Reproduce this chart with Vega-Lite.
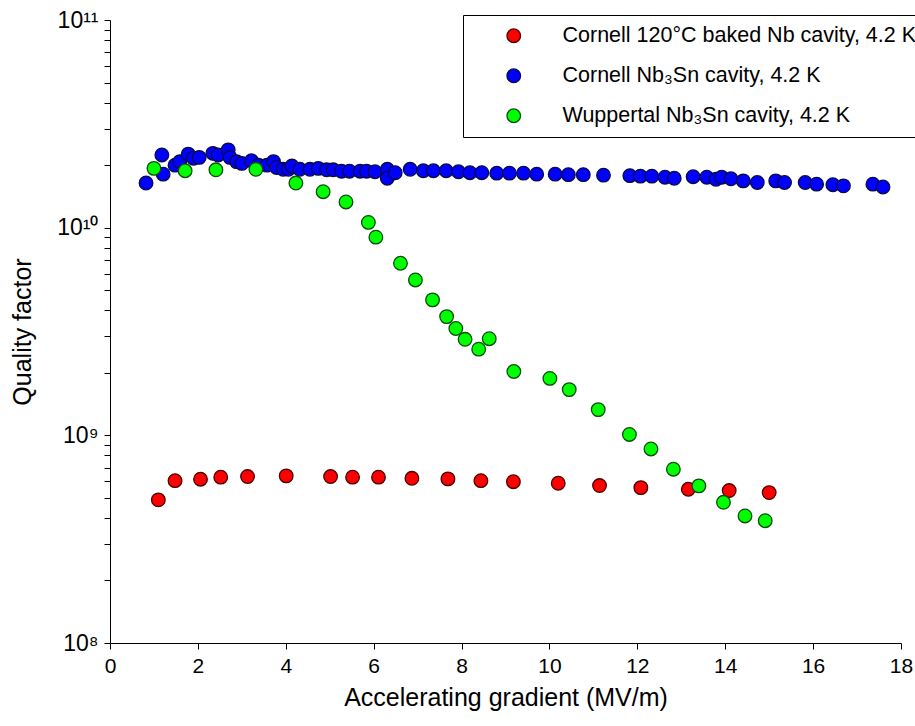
{
  "$schema": "https://vega.github.io/schema/vega-lite/v6.json",
  "width": 791,
  "height": 623,
  "autosize": "none",
  "padding": {"left": 110, "top": 20, "right": 14, "bottom": 83},
  "background": "white",
  "config": {
    "view": {"stroke": null},
    "font": "Liberation Sans",
    "axis": {"domainColor": "black", "tickColor": "black", "labelColor": "black", "titleColor": "black", "labelFont": "Liberation Sans", "titleFont": "Liberation Sans", "titleFontWeight": "normal", "grid": false}
  },
  "data": {"values": [
    {"s": "Cornell 120°C baked Nb cavity, 4.2 K", "e": 1.10, "q": 4.89e8},
    {"s": "Cornell 120°C baked Nb cavity, 4.2 K", "e": 1.48, "q": 6.05e8},
    {"s": "Cornell 120°C baked Nb cavity, 4.2 K", "e": 2.06, "q": 6.15e8},
    {"s": "Cornell 120°C baked Nb cavity, 4.2 K", "e": 2.52, "q": 6.29e8},
    {"s": "Cornell 120°C baked Nb cavity, 4.2 K", "e": 3.13, "q": 6.33e8},
    {"s": "Cornell 120°C baked Nb cavity, 4.2 K", "e": 4.01, "q": 6.38e8},
    {"s": "Cornell 120°C baked Nb cavity, 4.2 K", "e": 5.02, "q": 6.33e8},
    {"s": "Cornell 120°C baked Nb cavity, 4.2 K", "e": 5.52, "q": 6.29e8},
    {"s": "Cornell 120°C baked Nb cavity, 4.2 K", "e": 6.11, "q": 6.29e8},
    {"s": "Cornell 120°C baked Nb cavity, 4.2 K", "e": 6.87, "q": 6.21e8},
    {"s": "Cornell 120°C baked Nb cavity, 4.2 K", "e": 7.69, "q": 6.17e8},
    {"s": "Cornell 120°C baked Nb cavity, 4.2 K", "e": 8.44, "q": 6.05e8},
    {"s": "Cornell 120°C baked Nb cavity, 4.2 K", "e": 9.18, "q": 5.98e8},
    {"s": "Cornell 120°C baked Nb cavity, 4.2 K", "e": 10.20, "q": 5.88e8},
    {"s": "Cornell 120°C baked Nb cavity, 4.2 K", "e": 11.14, "q": 5.73e8},
    {"s": "Cornell 120°C baked Nb cavity, 4.2 K", "e": 12.08, "q": 5.60e8},
    {"s": "Cornell 120°C baked Nb cavity, 4.2 K", "e": 13.16, "q": 5.50e8},
    {"s": "Cornell 120°C baked Nb cavity, 4.2 K", "e": 14.09, "q": 5.42e8},
    {"s": "Cornell 120°C baked Nb cavity, 4.2 K", "e": 15.00, "q": 5.30e8},
    {"s": "Cornell Nb₃Sn cavity, 4.2 K", "e": 0.82, "q": 1.64e10},
    {"s": "Cornell Nb₃Sn cavity, 4.2 K", "e": 1.18, "q": 2.24e10},
    {"s": "Cornell Nb₃Sn cavity, 4.2 K", "e": 1.21, "q": 1.81e10},
    {"s": "Cornell Nb₃Sn cavity, 4.2 K", "e": 1.48, "q": 2.00e10},
    {"s": "Cornell Nb₃Sn cavity, 4.2 K", "e": 1.59, "q": 2.08e10},
    {"s": "Cornell Nb₃Sn cavity, 4.2 K", "e": 1.78, "q": 2.26e10},
    {"s": "Cornell Nb₃Sn cavity, 4.2 K", "e": 1.90, "q": 2.16e10},
    {"s": "Cornell Nb₃Sn cavity, 4.2 K", "e": 2.03, "q": 2.18e10},
    {"s": "Cornell Nb₃Sn cavity, 4.2 K", "e": 2.34, "q": 2.28e10},
    {"s": "Cornell Nb₃Sn cavity, 4.2 K", "e": 2.46, "q": 2.24e10},
    {"s": "Cornell Nb₃Sn cavity, 4.2 K", "e": 2.69, "q": 2.37e10},
    {"s": "Cornell Nb₃Sn cavity, 4.2 K", "e": 2.73, "q": 2.18e10},
    {"s": "Cornell Nb₃Sn cavity, 4.2 K", "e": 2.88, "q": 2.08e10},
    {"s": "Cornell Nb₃Sn cavity, 4.2 K", "e": 3.00, "q": 2.04e10},
    {"s": "Cornell Nb₃Sn cavity, 4.2 K", "e": 3.22, "q": 2.10e10},
    {"s": "Cornell Nb₃Sn cavity, 4.2 K", "e": 3.38, "q": 2.00e10},
    {"s": "Cornell Nb₃Sn cavity, 4.2 K", "e": 3.57, "q": 2.00e10},
    {"s": "Cornell Nb₃Sn cavity, 4.2 K", "e": 3.72, "q": 2.08e10},
    {"s": "Cornell Nb₃Sn cavity, 4.2 K", "e": 3.79, "q": 1.95e10},
    {"s": "Cornell Nb₃Sn cavity, 4.2 K", "e": 3.94, "q": 1.91e10},
    {"s": "Cornell Nb₃Sn cavity, 4.2 K", "e": 4.06, "q": 1.91e10},
    {"s": "Cornell Nb₃Sn cavity, 4.2 K", "e": 4.14, "q": 1.98e10},
    {"s": "Cornell Nb₃Sn cavity, 4.2 K", "e": 4.32, "q": 1.91e10},
    {"s": "Cornell Nb₃Sn cavity, 4.2 K", "e": 4.55, "q": 1.91e10},
    {"s": "Cornell Nb₃Sn cavity, 4.2 K", "e": 4.74, "q": 1.93e10},
    {"s": "Cornell Nb₃Sn cavity, 4.2 K", "e": 4.93, "q": 1.90e10},
    {"s": "Cornell Nb₃Sn cavity, 4.2 K", "e": 5.08, "q": 1.90e10},
    {"s": "Cornell Nb₃Sn cavity, 4.2 K", "e": 5.27, "q": 1.87e10},
    {"s": "Cornell Nb₃Sn cavity, 4.2 K", "e": 5.45, "q": 1.87e10},
    {"s": "Cornell Nb₃Sn cavity, 4.2 K", "e": 5.69, "q": 1.87e10},
    {"s": "Cornell Nb₃Sn cavity, 4.2 K", "e": 5.84, "q": 1.87e10},
    {"s": "Cornell Nb₃Sn cavity, 4.2 K", "e": 6.03, "q": 1.86e10},
    {"s": "Cornell Nb₃Sn cavity, 4.2 K", "e": 6.31, "q": 1.91e10},
    {"s": "Cornell Nb₃Sn cavity, 4.2 K", "e": 6.31, "q": 1.73e10},
    {"s": "Cornell Nb₃Sn cavity, 4.2 K", "e": 6.49, "q": 1.84e10},
    {"s": "Cornell Nb₃Sn cavity, 4.2 K", "e": 6.83, "q": 1.91e10},
    {"s": "Cornell Nb₃Sn cavity, 4.2 K", "e": 7.13, "q": 1.88e10},
    {"s": "Cornell Nb₃Sn cavity, 4.2 K", "e": 7.36, "q": 1.88e10},
    {"s": "Cornell Nb₃Sn cavity, 4.2 K", "e": 7.65, "q": 1.88e10},
    {"s": "Cornell Nb₃Sn cavity, 4.2 K", "e": 7.93, "q": 1.86e10},
    {"s": "Cornell Nb₃Sn cavity, 4.2 K", "e": 8.19, "q": 1.84e10},
    {"s": "Cornell Nb₃Sn cavity, 4.2 K", "e": 8.46, "q": 1.84e10},
    {"s": "Cornell Nb₃Sn cavity, 4.2 K", "e": 8.80, "q": 1.83e10},
    {"s": "Cornell Nb₃Sn cavity, 4.2 K", "e": 9.09, "q": 1.83e10},
    {"s": "Cornell Nb₃Sn cavity, 4.2 K", "e": 9.41, "q": 1.83e10},
    {"s": "Cornell Nb₃Sn cavity, 4.2 K", "e": 9.71, "q": 1.81e10},
    {"s": "Cornell Nb₃Sn cavity, 4.2 K", "e": 10.13, "q": 1.81e10},
    {"s": "Cornell Nb₃Sn cavity, 4.2 K", "e": 10.43, "q": 1.80e10},
    {"s": "Cornell Nb₃Sn cavity, 4.2 K", "e": 10.77, "q": 1.80e10},
    {"s": "Cornell Nb₃Sn cavity, 4.2 K", "e": 11.23, "q": 1.79e10},
    {"s": "Cornell Nb₃Sn cavity, 4.2 K", "e": 11.83, "q": 1.78e10},
    {"s": "Cornell Nb₃Sn cavity, 4.2 K", "e": 12.07, "q": 1.77e10},
    {"s": "Cornell Nb₃Sn cavity, 4.2 K", "e": 12.33, "q": 1.77e10},
    {"s": "Cornell Nb₃Sn cavity, 4.2 K", "e": 12.63, "q": 1.75e10},
    {"s": "Cornell Nb₃Sn cavity, 4.2 K", "e": 12.84, "q": 1.73e10},
    {"s": "Cornell Nb₃Sn cavity, 4.2 K", "e": 13.27, "q": 1.76e10},
    {"s": "Cornell Nb₃Sn cavity, 4.2 K", "e": 13.58, "q": 1.75e10},
    {"s": "Cornell Nb₃Sn cavity, 4.2 K", "e": 13.79, "q": 1.71e10},
    {"s": "Cornell Nb₃Sn cavity, 4.2 K", "e": 13.92, "q": 1.75e10},
    {"s": "Cornell Nb₃Sn cavity, 4.2 K", "e": 14.13, "q": 1.72e10},
    {"s": "Cornell Nb₃Sn cavity, 4.2 K", "e": 14.41, "q": 1.68e10},
    {"s": "Cornell Nb₃Sn cavity, 4.2 K", "e": 14.73, "q": 1.65e10},
    {"s": "Cornell Nb₃Sn cavity, 4.2 K", "e": 15.15, "q": 1.68e10},
    {"s": "Cornell Nb₃Sn cavity, 4.2 K", "e": 15.35, "q": 1.65e10},
    {"s": "Cornell Nb₃Sn cavity, 4.2 K", "e": 15.82, "q": 1.65e10},
    {"s": "Cornell Nb₃Sn cavity, 4.2 K", "e": 16.08, "q": 1.62e10},
    {"s": "Cornell Nb₃Sn cavity, 4.2 K", "e": 16.45, "q": 1.61e10},
    {"s": "Cornell Nb₃Sn cavity, 4.2 K", "e": 16.69, "q": 1.59e10},
    {"s": "Cornell Nb₃Sn cavity, 4.2 K", "e": 17.36, "q": 1.62e10},
    {"s": "Cornell Nb₃Sn cavity, 4.2 K", "e": 17.59, "q": 1.57e10},
    {"s": "Wuppertal Nb₃Sn cavity, 4.2 K", "e": 1.00, "q": 1.93e10},
    {"s": "Wuppertal Nb₃Sn cavity, 4.2 K", "e": 1.71, "q": 1.88e10},
    {"s": "Wuppertal Nb₃Sn cavity, 4.2 K", "e": 2.41, "q": 1.90e10},
    {"s": "Wuppertal Nb₃Sn cavity, 4.2 K", "e": 3.32, "q": 1.91e10},
    {"s": "Wuppertal Nb₃Sn cavity, 4.2 K", "e": 4.23, "q": 1.64e10},
    {"s": "Wuppertal Nb₃Sn cavity, 4.2 K", "e": 4.85, "q": 1.49e10},
    {"s": "Wuppertal Nb₃Sn cavity, 4.2 K", "e": 5.37, "q": 1.33e10},
    {"s": "Wuppertal Nb₃Sn cavity, 4.2 K", "e": 5.88, "q": 1.06e10},
    {"s": "Wuppertal Nb₃Sn cavity, 4.2 K", "e": 6.05, "q": 9.0e9},
    {"s": "Wuppertal Nb₃Sn cavity, 4.2 K", "e": 6.61, "q": 6.74e9},
    {"s": "Wuppertal Nb₃Sn cavity, 4.2 K", "e": 6.95, "q": 5.60e9},
    {"s": "Wuppertal Nb₃Sn cavity, 4.2 K", "e": 7.34, "q": 4.49e9},
    {"s": "Wuppertal Nb₃Sn cavity, 4.2 K", "e": 7.66, "q": 3.73e9},
    {"s": "Wuppertal Nb₃Sn cavity, 4.2 K", "e": 7.87, "q": 3.27e9},
    {"s": "Wuppertal Nb₃Sn cavity, 4.2 K", "e": 8.08, "q": 2.90e9},
    {"s": "Wuppertal Nb₃Sn cavity, 4.2 K", "e": 8.39, "q": 2.60e9},
    {"s": "Wuppertal Nb₃Sn cavity, 4.2 K", "e": 8.63, "q": 2.92e9},
    {"s": "Wuppertal Nb₃Sn cavity, 4.2 K", "e": 9.19, "q": 2.03e9},
    {"s": "Wuppertal Nb₃Sn cavity, 4.2 K", "e": 10.01, "q": 1.88e9},
    {"s": "Wuppertal Nb₃Sn cavity, 4.2 K", "e": 10.45, "q": 1.66e9},
    {"s": "Wuppertal Nb₃Sn cavity, 4.2 K", "e": 11.11, "q": 1.33e9},
    {"s": "Wuppertal Nb₃Sn cavity, 4.2 K", "e": 11.82, "q": 1.01e9},
    {"s": "Wuppertal Nb₃Sn cavity, 4.2 K", "e": 12.31, "q": 8.6e8},
    {"s": "Wuppertal Nb₃Sn cavity, 4.2 K", "e": 12.82, "q": 6.87e8},
    {"s": "Wuppertal Nb₃Sn cavity, 4.2 K", "e": 13.40, "q": 5.71e8},
    {"s": "Wuppertal Nb₃Sn cavity, 4.2 K", "e": 13.96, "q": 4.76e8},
    {"s": "Wuppertal Nb₃Sn cavity, 4.2 K", "e": 14.45, "q": 4.09e8},
    {"s": "Wuppertal Nb₃Sn cavity, 4.2 K", "e": 14.91, "q": 3.88e8}
  ]},
  "mark": {"type": "point", "shape": "circle", "filled": true, "size": 185, "strokeWidth": 1.3, "opacity": 1, "fillOpacity": 1, "strokeOpacity": 1},
  "encoding": {
    "x": {
      "field": "e", "type": "quantitative",
      "scale": {"domain": [0, 18], "nice": false, "zero": false},
      "axis": {"title": "Accelerating gradient (MV/m)", "values": [0, 2, 4, 6, 8, 10, 12, 14, 16, 18], "format": "d", "labelFontSize": 21, "titleFontSize": 25, "tickSize": 6, "labelPadding": 6, "titlePadding": 9, "labelFlush": false}
    },
    "y": {
      "field": "q", "type": "quantitative",
      "scale": {"type": "log", "domain": [1e8, 1e11], "nice": false},
      "axis": {
        "title": "Quality factor",
        "values": [1e8, 2e8, 3e8, 4e8, 5e8, 6e8, 7e8, 8e8, 9e8, 1e9, 2e9, 3e9, 4e9, 5e9, 6e9, 7e9, 8e9, 9e9, 1e10, 2e10, 3e10, 4e10, 5e10, 6e10, 7e10, 8e10, 9e10, 1e11],
        "labelExpr": "datum.value == 1e8 ? '10⁸' : datum.value == 1e9 ? '10⁹' : datum.value == 1e10 ? '10¹⁰' : datum.value == 1e11 ? '10¹¹' : ''",
        "labelFontSize": 23, "titleFontSize": 25, "tickSize": 6, "labelPadding": 6, "titlePadding": 21, "labelFlush": false
      }
    },
    "fill": {
      "field": "s", "type": "nominal",
      "scale": {"domain": ["Cornell 120°C baked Nb cavity, 4.2 K", "Cornell Nb₃Sn cavity, 4.2 K", "Wuppertal Nb₃Sn cavity, 4.2 K"], "range": ["#ff0000", "#0000ff", "#00ff00"]},
      "legend": {"orient": "none", "legendX": 353, "legendY": -5, "title": null, "strokeColor": "black", "fillColor": "white", "padding": 10, "symbolOffset": 30, "labelOffset": 38, "labelFontSize": 21.5, "labelLimit": 0, "labelColor": "black", "rowPadding": 17, "symbolSize": 185, "symbolStrokeWidth": 1.3}
    },
    "stroke": {
      "field": "s", "type": "nominal",
      "scale": {"domain": ["Cornell 120°C baked Nb cavity, 4.2 K", "Cornell Nb₃Sn cavity, 4.2 K", "Wuppertal Nb₃Sn cavity, 4.2 K"], "range": ["#4a0000", "#0a0a45", "#0b4d0b"]},
      "legend": {"orient": "none", "legendX": 353, "legendY": -5, "title": null, "strokeColor": "black", "fillColor": "white", "padding": 10, "symbolOffset": 30, "labelOffset": 38, "labelFontSize": 21.5, "labelLimit": 0, "labelColor": "black", "rowPadding": 17, "symbolSize": 185, "symbolStrokeWidth": 1.3}
    }
  }
}
